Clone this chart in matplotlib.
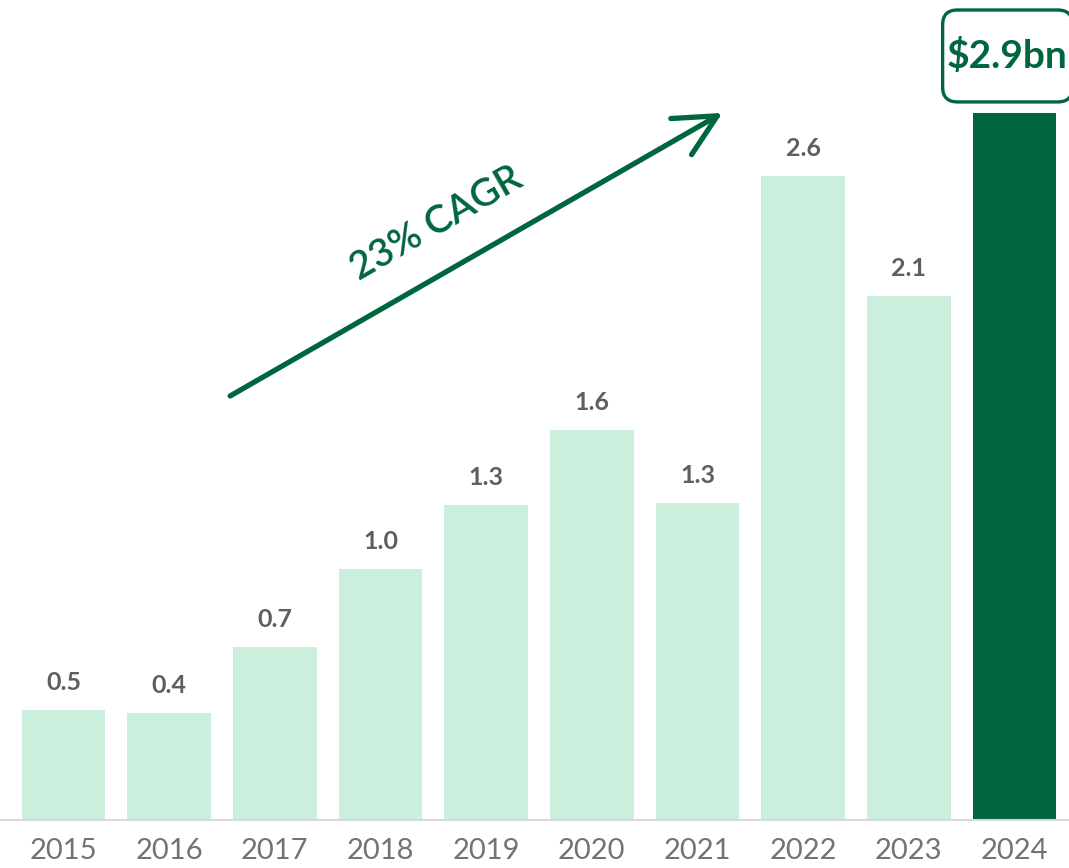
import matplotlib
matplotlib.use("Agg")
import matplotlib.pyplot as plt
from matplotlib.patches import FancyBboxPatch

plt.rcParams['font.family'] = ['Lato', 'DejaVu Sans']

years = ['2015', '2016', '2017', '2018', '2019', '2020', '2021', '2022', '2023', '2024']
values = [0.45, 0.44, 0.71, 1.03, 1.29, 1.60, 1.30, 2.64, 2.15, 2.90]
value_labels = ['0.5', '0.4', '0.7', '1.0', '1.3', '1.6', '1.3', '2.6', '2.1', '']
total_label = '$2.9bn'
cagr_label = '23% CAGR'

light_green = '#CBEEDD'
dark_green = '#00663D'
label_gray = '#5F5F5F'
year_gray = '#737373'

fig = plt.figure(figsize=(10.69, 8.68), dpi=100)
ax = fig.add_axes([0, 48 / 868, 1, 820 / 868])

x = range(len(years))
colors = [light_green] * (len(years) - 1) + [dark_green]
ax.bar(x, values, width=0.79, color=colors, zorder=2)

ax.set_xlim(-0.601, 9.516)
ax.set_ylim(0, 3.363)

for i, (v, lab) in enumerate(zip(values, value_labels)):
    if lab:
        ax.annotate(lab, (i, v), xytext=(0, 14.5), textcoords='offset points',
                    ha='center', va='baseline', fontsize=18, fontweight='bold',
                    color=label_gray)

# baseline + year labels
for s in ['top', 'right', 'left']:
    ax.spines[s].set_visible(False)
ax.spines['bottom'].set_color('#D9D9D9')
ax.spines['bottom'].set_linewidth(1.5)
ax.set_yticks([])
ax.set_xticks(list(x))
ax.set_xticklabels(years, fontsize=21, color=year_gray)
ax.tick_params(axis='x', length=0, pad=13)

# growth arrow
ax.annotate('', xy=(6.236, 2.90), xytext=(1.577, 1.739),
            arrowprops=dict(arrowstyle='->,head_length=1.0,head_width=0.5',
                            lw=3.8, color=dark_green, mutation_scale=30,
                            shrinkA=0, shrinkB=0, capstyle='round'))
ax.text(3.53, 2.445, cagr_label, rotation=30, rotation_mode='anchor',
        ha='center', va='center', fontsize=28, fontweight='semibold',
        color=dark_green)

# callout box for 2024
last = len(values) - 1
box_x0, box_x1 = last - 0.68, last + 0.55
box_y0, box_y1 = values[last] + 0.045, values[last] + 0.422
ax.add_patch(FancyBboxPatch((box_x0, box_y0), box_x1 - box_x0, box_y1 - box_y0,
                            boxstyle='round,pad=0,rounding_size=0.14',
                            mutation_aspect=105.6 / 243.8,
                            facecolor='white', edgecolor=dark_green, lw=2.4,
                            clip_on=False, zorder=3))
ax.text(last - 0.07, (box_y0 + box_y1) / 2, total_label, ha='center', va='center',
        fontsize=28, fontweight='bold', color=dark_green, zorder=4)

fig.savefig('out.png', dpi=100)
